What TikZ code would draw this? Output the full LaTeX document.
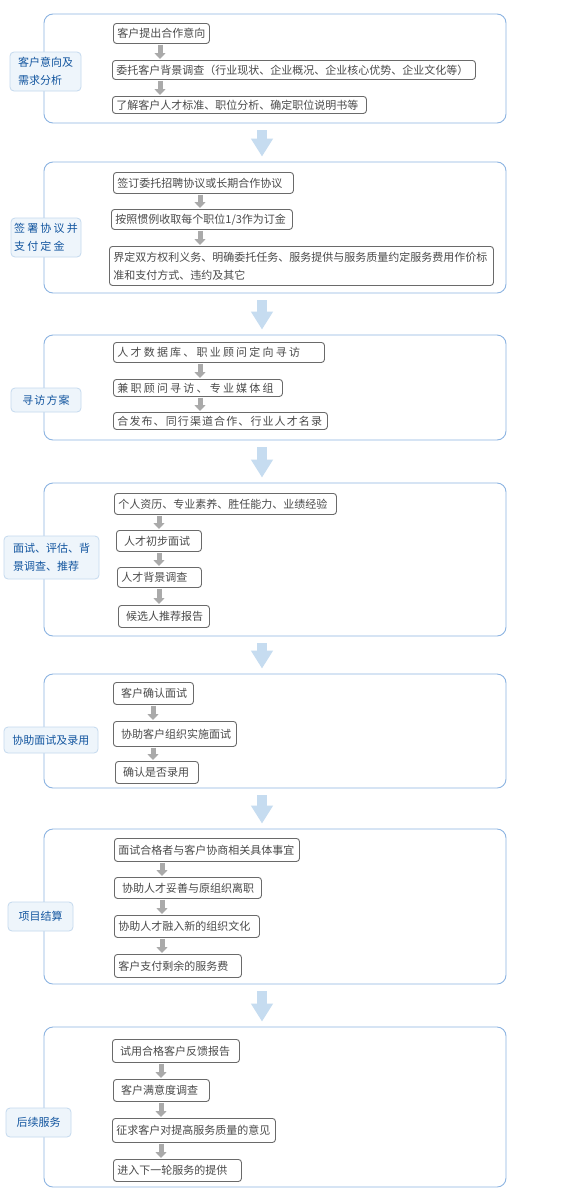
\documentclass[tikz,border=0pt]{standalone}
\usepackage{fontspec}
\setmainfont{Noto Sans CJK SC}
\usetikzlibrary{positioning,arrows.meta}

\definecolor{phaseline}{HTML}{8DB4E2}
\definecolor{tagline}{HTML}{C4D9EE}
\definecolor{tagfill}{HTML}{EEF5FB}
\definecolor{tagtext}{HTML}{12559F}
\definecolor{stepline}{HTML}{6A6A6A}
\definecolor{steptext}{HTML}{4A4A4A}
\definecolor{flowgray}{HTML}{AAAAAA}
\definecolor{bigblue}{HTML}{C6DCF0}

\begin{document}
\begin{tikzpicture}[
    x=1pt, y=-1pt,
    font=\fontsize{11}{18}\selectfont,
    phase/.style={draw=phaseline, line width=0.9pt, rounded corners=9pt, fill=white, minimum width=462pt, inner sep=0pt},
    tag/.style={draw=tagline, fill=tagfill, text=tagtext, line width=0.8pt, rounded corners=4pt, align=left, inner sep=0pt},
    stepbox/.style={draw=stepline, text=steptext, fill=white, line width=0.9pt, rounded corners=3pt, anchor=north west, inner xsep=4pt, inner ysep=0pt, align=left},
    spaced/.style={font=\fontsize{11}{18}\selectfont\addfontfeature{LetterSpace=#1}},
    flow/.style={draw=flowgray, line width=5pt, -{Triangle[width=11pt,length=6pt]}, shorten <=1pt, shorten >=1pt},
    bigflow/.style={draw=bigblue, line width=10pt, -{Triangle[width=21pt,length=18pt]}, shorten <=7pt, shorten >=5pt}
]
\useasboundingbox[fill=white] (0,0) rectangle (570,1202);

% Phase frames
\node[phase, minimum height=109pt] (ph1) at (275,68.5) {};
\node[phase, minimum height=131pt] (ph2) at (275,227.5) {};
\node[phase, minimum height=105pt] (ph3) at (275,387.5) {};
\node[phase, minimum height=153pt] (ph4) at (275,559.5) {};
\node[phase, minimum height=114pt] (ph5) at (275,731) {};
\node[phase, minimum height=155pt] (ph6) at (275,906.5) {};
\node[phase, minimum height=160pt] (ph7) at (275,1107) {};

% Phase labels
\node[tag, minimum width=71pt, minimum height=39pt] (lb1) at (45.5,71.5) {客户意向及\\需求分析};
\node[tag, minimum width=70pt, minimum height=39pt, spaced=20] (lb2) at (46,237.5) {签署协议并\\支付定金};
\node[tag, minimum width=70pt, minimum height=24pt, spaced=10] (lb3) at (46,400) {寻访方案};
\node[tag, minimum width=95pt, minimum height=43pt] (lb4) at (51.5,557.5) {面试、评估、背\\景调查、推荐};
\node[tag, minimum width=94pt, minimum height=26pt] (lb5) at (51,740) {协助面试及录用};
\node[tag, minimum width=65pt, minimum height=29pt] (lb6) at (40.5,916.5) {项目结算};
\node[tag, minimum width=65pt, minimum height=29pt] (lb7) at (38.5,1122.5) {后续服务};

% Phase 1
\node[stepbox, text width=88pt, minimum height=20pt] (s1a) at (113,23) {客户提出合作意向};
\node[stepbox, text width=355pt, minimum height=19pt] (s1b) at (112,60) {委托客户背景调查（行业现状、企业概况、企业核心优势、企业文化等）};
\node[stepbox, text width=246pt, minimum height=17pt] (s1c) at (112,96) {了解客户人才标准、职位分析、确定职位说明书等};

% Phase 2
\node[stepbox, text width=172pt, minimum height=21pt] (s2a) at (113,172) {签订委托招聘协议或长期合作协议};
\node[stepbox, text width=173pt, minimum height=20pt] (s2b) at (111,209) {按照惯例收取每个职位1/3作为订金};
\node[stepbox, text width=376pt, minimum height=39pt] (s2c) at (109,246) {界定双方权利义务、明确委托任务、服务提供与服务质量约定服务费用作价标\\准和支付方式、违约及其它};

% Phase 3
\node[stepbox, text width=203pt, minimum height=20pt, spaced=20] (s3a) at (113,342) {人才数据库、职业顾问定向寻访};
\node[stepbox, text width=161pt, minimum height=17pt, spaced=20] (s3b) at (113,379) {兼职顾问寻访、专业媒体组};
\node[stepbox, text width=206pt, minimum height=17pt, spaced=10] (s3c) at (113,412) {合发布、同行渠道合作、行业人才名录};

% Phase 4
\node[stepbox, text width=214pt, minimum height=21pt] (s4a) at (114,493) {个人资历、专业素养、胜任能力、业绩经验};
\node[stepbox, text width=77pt, minimum height=21pt] (s4b) at (116,530) {~人才初步面试};
\node[stepbox, text width=76pt, minimum height=20pt] (s4c) at (117,567) {人才背景调查};
\node[stepbox, text width=83pt, minimum height=22pt] (s4d) at (118,605) {~候选人推荐报告};

% Phase 5
\node[stepbox, text width=72pt, minimum height=22pt] (s5a) at (113,682) {~客户确认面试};
\node[stepbox, text width=115pt, minimum height=25pt] (s5b) at (113,721) {~协助客户组织实施面试};
\node[stepbox, text width=75pt, minimum height=22pt] (s5c) at (115,761) {~确认是否录用};

% Phase 6
\node[stepbox, text width=177pt, minimum height=23pt] (s6a) at (114,838) {面试合格者与客户协商相关具体事宜};
\node[stepbox, text width=139pt, minimum height=21pt] (s6b) at (114,877) {~协助人才妥善与原组织离职};
\node[stepbox, text width=137pt, minimum height=22pt] (s6c) at (114,915) {协助人才融入新的组织文化};
\node[stepbox, text width=119pt, minimum height=23pt] (s6d) at (114,954) {客户支付剩余的服务费};

% Phase 7
\node[stepbox, text width=119pt, minimum height=23pt] (s7a) at (112,1039) {~试用合格客户反馈报告};
\node[stepbox, text width=88pt, minimum height=22pt] (s7b) at (113,1079) {~客户满意度调查};
\node[stepbox, text width=155pt, minimum height=24pt] (s7c) at (112,1118) {征求客户对提高服务质量的意见};
\node[stepbox, text width=120pt, minimum height=22pt] (s7d) at (113,1159) {进入下一轮服务的提供};

% Arrow columns
\coordinate (ax1) at (160,0);
\coordinate (ax2) at (200,0);
\coordinate (ax4) at (159,0);
\coordinate (ax5) at (153,0);
\coordinate (ax6) at (162,0);
\coordinate (ax7) at (161,0);
\coordinate (bx) at (262,0);

% Step arrows
\draw[flow] (s1a.south -| ax1) -- (s1b.north -| ax1);
\draw[flow] (s1b.south -| ax1) -- (s1c.north -| ax1);
\draw[flow] (s2a.south -| ax2) -- (s2b.north -| ax2);
\draw[flow] (s2b.south -| ax2) -- (s2c.north -| ax2);
\draw[flow] (s3a.south -| ax2) -- (s3b.north -| ax2);
\draw[flow] (s3b.south -| ax2) -- (s3c.north -| ax2);
\draw[flow] (s4a.south -| ax4) -- (s4b.north -| ax4);
\draw[flow] (s4b.south -| ax4) -- (s4c.north -| ax4);
\draw[flow] (s4c.south -| ax4) -- (s4d.north -| ax4);
\draw[flow] (s5a.south -| ax5) -- (s5b.north -| ax5);
\draw[flow] (s5b.south -| ax5) -- (s5c.north -| ax5);
\draw[flow] (s6a.south -| ax6) -- (s6b.north -| ax6);
\draw[flow] (s6b.south -| ax6) -- (s6c.north -| ax6);
\draw[flow] (s6c.south -| ax6) -- (s6d.north -| ax6);
\draw[flow] (s7a.south -| ax7) -- (s7b.north -| ax7);
\draw[flow] (s7b.south -| ax7) -- (s7c.north -| ax7);
\draw[flow] (s7c.south -| ax7) -- (s7d.north -| ax7);

% Phase arrows
\draw[bigflow] (ph1.south -| bx) -- (ph2.north -| bx);
\draw[bigflow] (ph2.south -| bx) -- (ph3.north -| bx);
\draw[bigflow] (ph3.south -| bx) -- (ph4.north -| bx);
\draw[bigflow] (ph4.south -| bx) -- (ph5.north -| bx);
\draw[bigflow] (ph5.south -| bx) -- (ph6.north -| bx);
\draw[bigflow] (ph6.south -| bx) -- (ph7.north -| bx);

\end{tikzpicture}
\end{document}
